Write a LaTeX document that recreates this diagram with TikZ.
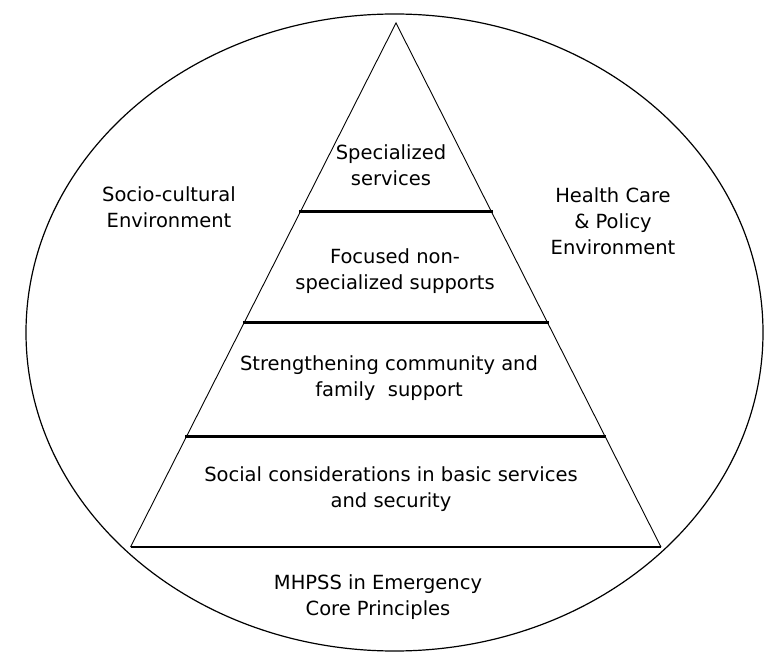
\documentclass[tikz,border=0pt]{standalone}
\usepackage{fontspec}
\setmainfont{DejaVu Sans}
\usetikzlibrary{calc}
\begin{document}
\begin{tikzpicture}[x=1pt,y=-1pt,every node/.style={align=center,inner sep=0pt,font=\fontsize{19.5}{26}\selectfont}]
		\useasboundingbox (0,0) rectangle (766,660);
		% outer environment
		\draw[line width=1.2pt] (394.5,332.5) ellipse [x radius=368.5pt, y radius=318.5pt];
		% pyramid
		\coordinate (top) at (396,23);
		\coordinate (bl) at (130.5,547);
		\coordinate (br) at (661,547);
		\draw[line width=0.9pt] (bl)--(top)--(br);
		\draw[line width=1.5pt] (bl)--(br);
		\foreach \t in {0.3588,0.5725,0.7882}{
			\draw[line width=3pt,line cap=rect] ($(top)!\t!(bl)$)--($(top)!\t!(br)$);
			}
		\node (ss) at (391,165){Specialized\\services};
		\node (fn) at (395,271){Focused non-\\specialized supports};
		\node (sf) at (389,378){Strengthening community and\\family\ \ support};
		\node (sb) at (391,489){Social considerations in basic services\\and security};
		\node (sc) at (169,207){Socio-cultural\\Environment};
		\node (hc) at (613,221){Health Care\\\& Policy\\Environment};
		\node (mh) at (378,597){MHPSS in Emergency\\Core Principles};
		\end{tikzpicture}
\end{document}
